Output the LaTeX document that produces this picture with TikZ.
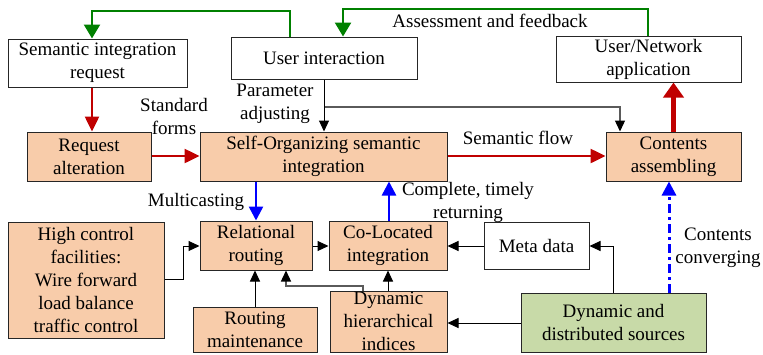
\documentclass[tikz,border=0pt]{standalone}
\usepackage{fontspec}
\setmainfont{Liberation Serif}
\newfontfamily\diagfont{Liberation Serif}
\usetikzlibrary{arrows.meta}
\definecolor{peach}{RGB}{248,204,170}
\definecolor{srcgreen}{RGB}{200,218,168}
\definecolor{fbgreen}{RGB}{0,128,0}
\definecolor{flowred}{RGB}{192,0,0}
\definecolor{flowblue}{RGB}{0,0,255}
\definecolor{linegray}{RGB}{90,90,90}
\begin{document}
\begin{tikzpicture}[x=1pt,y=-1pt,
  txt/.style={font=\diagfont\fontsize{19}{23}\selectfont},
  box/.style={txt, draw=black!85, line width=1pt, align=center, inner sep=0pt},
  wbox/.style={box, fill=white},
  pbox/.style={box, fill=peach},
  gbox/.style={box, fill=srcgreen},
  lbl/.style={txt, align=center, inner sep=0pt},
  blk/.style={draw=black, line width=1pt, -{Triangle[length=11pt,width=10pt]}},
  gry/.style={draw=linegray, line width=1.3pt, -{Triangle[length=11pt,width=10pt,fill=black,color=black]}},
  grn/.style={draw=fbgreen, line width=2.5pt, -{Triangle[length=14pt,width=16pt]}},
  rd/.style={draw=flowred, line width=2.5pt, -{Triangle[length=15pt,width=14pt]}},
  rdthick/.style={draw=flowred, line width=4.5pt, -{Triangle[length=15pt,width=20pt]}},
  bl/.style={draw=flowblue, line width=2.5pt, -{Triangle[length=14pt,width=14pt]}},
  bldash/.style={draw=flowblue, line width=3pt, dash pattern=on 9pt off 4pt on 3pt off 4pt, -{Triangle[length=14pt,width=14pt]}}
]
\useasboundingbox (0,0) rectangle (763,354);
\fill[white] (0,0) rectangle (763,354);

% boxes
\node[wbox, minimum width=179pt, minimum height=48pt] (sir) at (97.5,63) {Semantic integration\\request};
\node[wbox, minimum width=186pt, minimum height=42pt] (ui) at (324,58) {User interaction};
\node[wbox, minimum width=185pt, minimum height=46pt] (una) at (648.5,59) {User/Network\\application};
\node[pbox, minimum width=124pt, minimum height=49pt] (ra) at (89,156.5) {Request\\alteration};
\node[pbox, minimum width=247pt, minimum height=49pt] (sos) at (323.5,156.5) {Self-Organizing semantic\\integration};
\node[pbox, minimum width=135pt, minimum height=49pt] (ca) at (673.5,156.5) {Contents\\assembling};
\node[pbox, minimum width=112pt, minimum height=49pt] (rr) at (256,245.5) {Relational\\routing};
\node[pbox, minimum width=118pt, minimum height=49pt] (cli) at (388,245.5) {Co-Located\\integration};
\node[wbox, minimum width=105pt, minimum height=47pt] (md) at (536.5,245.5) {Meta data};
\node[pbox, minimum width=156pt, minimum height=116pt] (hcf) at (86,280) {High control\\facilities:\\Wire forward\\load balance\\traffic control};
\node[pbox, minimum width=124pt, minimum height=45pt] (rm) at (255,329.5) {Routing\\maintenance};
\node[pbox, minimum width=117pt, minimum height=61pt] (dhi) at (388.5,321.5) {Dynamic\\hierarchical\\indices};
\node[gbox, minimum width=185pt, minimum height=59pt] (dds) at (613.5,322.5) {Dynamic and\\distributed sources};

% labels
\node[lbl] (lassess) at (490,21) {Assessment and feedback};
\node[lbl] (lstd) at (174,116) {Standard\\forms};
\node[lbl] (lparam) at (275,104) {Parameter\\adjusting};
\node[lbl] (lsem) at (518,138) {Semantic flow};
\node[lbl] (lmulti) at (196,202) {Multicasting};
\node[lbl] (lcomp) at (468,202) {Complete, timely\\returning};
\node[lbl] (lconv) at (718,248) {Contents\\converging};

% green feedback
\draw[grn] (290,0 |- ui.north) -- (290,11) -- (92,11) -- (92,0 |- sir.north);
\draw[grn] (648,0 |- una.north) -- (648,9) -- (343,9) -- (343,0 |- ui.north);

% red flows
\draw[rd] (92,0 |- sir.south) -- (92,0 |- ra.north);
\draw[rd] (ra.east |- 0,156) -- (sos.west |- 0,156);
\draw[rd] (sos.east |- 0,156) -- (ca.west |- 0,156);
\draw[rdthick] (ca.north) -- (ca.north |- una.south);

% parameter adjusting
\draw[gry] (324,107) -- (620,107) -- (620,0 |- ca.north);
\draw[blk] (ui.south) -- (324,0 |- sos.north);

% blue
\draw[bl] (256,0 |- sos.south) -- (rr.north);
\draw[bl] (389,0 |- cli.north) -- (389,0 |- sos.south);
\draw[bldash] (669,0 |- dds.north) -- (669,0 |- ca.south);

% black lower
\draw[blk] (hcf.east |- 0,279) -- (183,279) -- (183,246) -- (rr.west |- 0,246);
\draw[blk] (rr.east |- 0,246) -- (cli.west |- 0,246);
\draw[blk] (255,0 |- rm.north) -- (255,0 |- rr.south);
\draw[gry] (363,0 |- dhi.north) -- (363,286) -- (286,286) -- (286,0 |- rr.south);
\draw[blk] (388,0 |- dhi.north) -- (388,0 |- cli.south);
\draw[blk] (md.west |- 0,246) -- (cli.east |- 0,246);
\draw[blk] (613,0 |- dds.north) -- (613,246) -- (md.east |- 0,246);
\draw[blk] (dds.west |- 0,323) -- (dhi.east |- 0,323);
\end{tikzpicture}
\end{document}
